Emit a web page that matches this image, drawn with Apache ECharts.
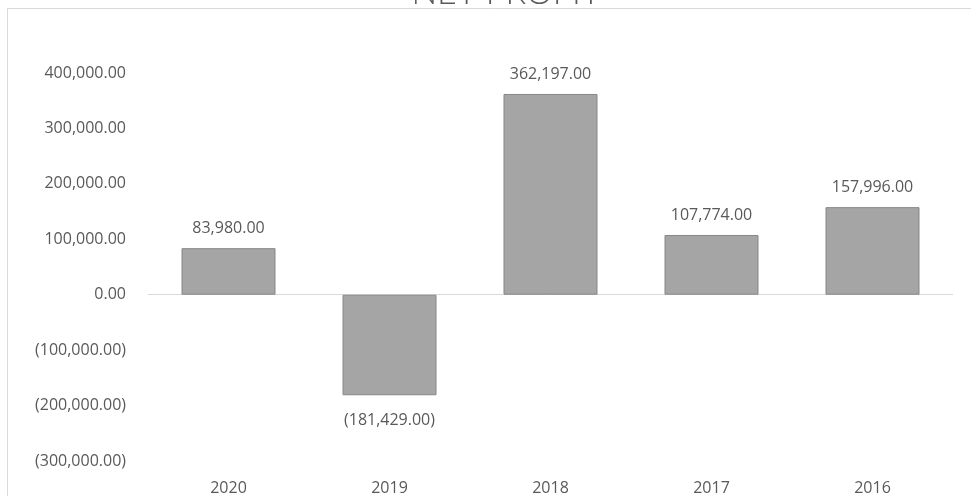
<!DOCTYPE html>
<html>
<head>
<meta charset="utf-8">
<script src="https://cdn.jsdelivr.net/npm/echarts@6/dist/echarts.min.js"></script>
<style>html,body{margin:0;padding:0;background:#fff;}#c{width:971px;height:496px;}</style>
</head>
<body>
<div id="c"></div>
<script>
const categories = ['2020', '2019', '2018', '2017', '2016'];
const netProfit = [83980, -181429, 362197, 107774, 157996];
const titleText = 'NET PROFIT';

function fmt(v) {
  const s = Math.abs(v).toLocaleString('en-US', {minimumFractionDigits: 2, maximumFractionDigits: 2});
  return v < 0 ? '(' + s + ')' : s;
}

const chart = echarts.init(document.getElementById('c'), null, {renderer: 'canvas'});
const font = 'Open Sans';
const barData = netProfit.map(v => v < 0
  ? {value: v, label: {position: 'bottom', distance: 17}}
  : v);
chart.setOption({
  animation: false,
  backgroundColor: '#fff',
  title: {
    text: titleText,
    left: 501,
    textAlign: 'center',
    top: -29,
    textStyle: {fontFamily: 'Lato', fontWeight: 300, fontSize: 34, color: '#595959'}
  },
  graphic: [{
    type: 'rect',
    shape: {x: 7.5, y: 8.5, width: 1000, height: 600},
    style: {fill: 'none', stroke: '#d9d9d9', lineWidth: 1},
    z: -1
  }],
  grid: {left: 148, right: 18, top: 73, bottom: 35, containLabel: false},
  xAxis: {
    type: 'category',
    data: categories,
    axisLine: {show: false},
    axisTick: {show: false},
    axisLabel: {margin: 19, fontFamily: font, fontSize: 16, color: '#595959'}
  },
  yAxis: {
    type: 'value',
    min: -300000,
    max: 400000,
    interval: 100000,
    splitLine: {show: false},
    axisLine: {show: false},
    axisTick: {show: false},
    axisLabel: {margin: 22, fontFamily: font, fontSize: 16, color: '#595959', formatter: fmt}
  },
  series: [{
    type: 'bar',
    data: barData,
    barWidth: 94,
    itemStyle: {color: '#a5a5a5', borderColor: '#878787', borderWidth: 1},
    label: {
      show: true,
      position: 'top',
      distance: 12,
      fontFamily: font,
      fontSize: 16,
      color: '#595959',
      formatter: p => fmt(p.value)
    },
    markLine: {
      silent: true,
      symbol: 'none',
      label: {show: false},
      lineStyle: {color: '#d9d9d9', type: 'solid', width: 1},
      data: [{yAxis: 0}],
      z: 1
    }
  }]
});
</script>
</body>
</html>
